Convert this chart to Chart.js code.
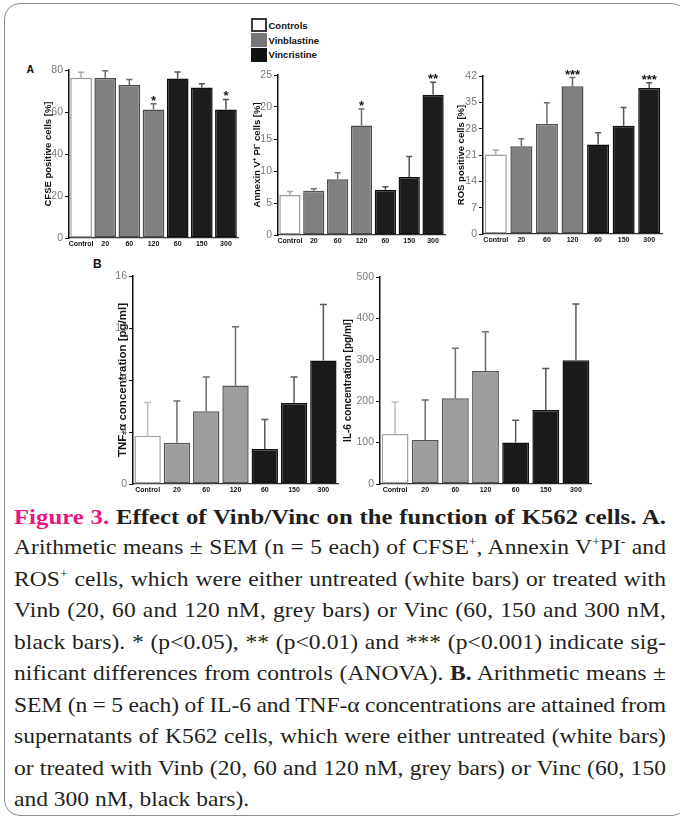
<!DOCTYPE html>
<html>
<head>
<meta charset="utf-8">
<script src="https://cdn.jsdelivr.net/npm/chart.js@4.4.0/dist/chart.umd.min.js"></script>
<style>
  html, body { margin: 0; padding: 0; background: #fff; }
  body { width: 680px; height: 827px; position: relative; overflow: hidden; }
  .frame { position: absolute; left: 4px; top: 3px; width: 684px; height: 813px; border: 1.5px solid #8c8c8c; border-radius: 16px; box-sizing: border-box; }
  canvas { position: absolute; }
  .lbl { position: absolute; font-family: "Liberation Sans", Arial, sans-serif; font-weight: bold; color: #111; line-height: 1; }
  .sw { position: absolute; left: 251px; width: 16px; height: 14px; box-sizing: border-box; }
  .caption { position: absolute; left: 14px; top: 500.5px; width: 600px; font-family: "Liberation Serif", "Times New Roman", serif; font-size: 21px; line-height: 31.5px; color: #231f20; transform: scaleX(1.12); transform-origin: 0 0; }
  .caption div { white-space: nowrap; }
  .caption div.head { font-size: 22px; }
  .caption sup { font-size: 12px; line-height: 0; position: relative; top: -8px; vertical-align: baseline; }
  .pink { color: #e5177e; }
</style>
</head>
<body>
<div class="frame"></div>

<div class="lbl" style="left:26.5px;top:63.5px;font-size:10.5px">A</div>
<div class="lbl" style="left:93px;top:258px;font-size:12px">B</div>

<div class="sw" style="top:18px;background:#fff;border:2px solid #3a3a3a"></div>
<div class="sw" style="top:33px;background:#777"></div>
<div class="sw" style="top:47.5px;background:#111"></div>
<div class="lbl" style="left:268.5px;top:21px;font-size:9.5px">Controls</div>
<div class="lbl" style="left:268.5px;top:35.5px;font-size:9.5px">Vinblastine</div>
<div class="lbl" style="left:268.5px;top:49.5px;font-size:9.5px">Vincristine</div>

<canvas id="cfse"></canvas>
<canvas id="annexin"></canvas>
<canvas id="ros"></canvas>
<canvas id="tnf"></canvas>
<canvas id="il6"></canvas>

<div class="caption">
  <div class="head fit"><b><span class="pink">Figure 3.</span> Effect of Vinb/Vinc on the function of K562 cells. A.</b></div>
  <div class="fit">Arithmetic means ± SEM (n = 5 each) of CFSE<sup>+</sup>, Annexin V<sup>+</sup>PI<sup>-</sup> and</div>
  <div class="fit">ROS<sup>+</sup> cells, which were either untreated (white bars) or treated with</div>
  <div class="fit">Vinb (20, 60 and 120 nM, grey bars) or Vinc (60, 150 and 300 nM,</div>
  <div class="fit">black bars). * (p&lt;0.05), ** (p&lt;0.01) and *** (p&lt;0.001) indicate sig-</div>
  <div class="fit">nificant differences from controls (ANOVA). <b>B.</b> Arithmetic means ±</div>
  <div class="fit">SEM (n = 5 each) of IL-6 and TNF-α concentrations are attained from</div>
  <div class="fit">supernatants of K562 cells, which were either untreated (white bars)</div>
  <div class="fit">or treated with Vinb (20, 60 and 120 nM, grey bars) or Vinc (60, 150</div>
  <div>and 300 nM, black bars).</div>
</div>

<script>
'use strict';

const categories = ['Control', '20', '60', '120', '60', '150', '300'];

// panel A
const cfseMeans = [76.3, 76.3, 72.8, 61.2, 75.9, 71.7, 61.2];
const cfseSem = [2.6, 3.4, 2.7, 2.7, 3.1, 1.8, 4.8];
const cfseStars = ['', '', '', '*', '', '', '*'];
const cfseTicks = [0, 20, 40, 60, 80];

const annexinMeans = [6.25, 6.93, 8.7, 17.1, 7.08, 9.06, 21.9];
const annexinSem = [0.55, 0.31, 1.04, 2.6, 0.47, 3.2, 1.95];
const annexinStars = ['', '', '', '*', '', '', '**'];
const annexinTicks = [0, 5, 10, 15, 20, 25];

const rosMeans = [21.1, 23.3, 29.3, 39.3, 23.8, 28.8, 38.8];
const rosSem = [1.2, 2.0, 5.6, 2.3, 3.1, 4.8, 1.4];
const rosStars = ['', '', '', '***', '', '', '***'];
const rosTicks = [0, 7, 14, 21, 28, 35, 42];

// panel B
const tnfMeans = [3.72, 3.18, 5.6, 7.58, 2.7, 6.24, 9.5];
const tnfSem = [2.55, 3.21, 2.64, 4.52, 2.26, 2.0, 4.3];
const tnfTicks = [0, 4, 8, 12, 16];

const il6Means = [121, 106, 207, 273, 100, 179, 299];
const il6Sem = [77, 97, 121, 95, 54, 100, 136];
const il6Ticks = [0, 100, 200, 300, 400, 500];

const FONT = '"Liberation Sans", Arial, sans-serif';

const styleA = {
    fill: ['#ffffff', '#808080', '#808080', '#808080', '#1c1c1c', '#1c1c1c', '#1c1c1c'],
    border: ['#9d95a8', '#4e4e4e', '#4e4e4e', '#4e4e4e', '#0e0e0e', '#0e0e0e', '#0e0e0e'],
    err: ['#ababab', '#6b6b6b', '#6b6b6b', '#6b6b6b', '#555555', '#555555', '#555555']
};
const styleB = {
    fill: ['#ffffff', '#9d9d9d', '#9d9d9d', '#9d9d9d', '#1a1a1a', '#1a1a1a', '#1a1a1a'],
    border: ['#a8a0b0', '#555555', '#555555', '#555555', '#101010', '#101010', '#101010'],
    err: ['#bdbdbd', '#6e6e6e', '#6e6e6e', '#6e6e6e', '#5a5a5a', '#5a5a5a', '#5a5a5a']
};

// upper error whiskers + significance stars
function errorPlugin(sem, colors, stars, cap) {
    return {
        id: 'errorBars',
        afterDatasetsDraw(chart) {
            const ctx = chart.ctx;
            const y = chart.scales.y;
            const ds = chart.data.datasets[0];
            const meta = chart.getDatasetMeta(0);
            ctx.save();
            meta.data.forEach(function (bar, i) {
                const top = y.getPixelForValue(ds.data[i] + sem[i]);
                ctx.strokeStyle = colors[i];
                ctx.lineWidth = 1.5;
                ctx.beginPath();
                ctx.moveTo(bar.x, bar.y);
                ctx.lineTo(bar.x, top);
                ctx.moveTo(bar.x - cap, top);
                ctx.lineTo(bar.x + cap, top);
                ctx.stroke();
                if (stars && stars[i]) {
                    ctx.fillStyle = '#111';
                    ctx.font = 'bold 13px ' + FONT;
                    ctx.textAlign = 'center';
                    ctx.textBaseline = 'alphabetic';
                    ctx.fillText(stars[i], bar.x, top + 1);
                }
            });
            ctx.restore();
        }
    };
}

function barChart(id, g, means, sem, stars, style, yTicks, yTitle) {
    const canvas = document.getElementById(id);
    canvas.style.left = g.x + 'px';
    canvas.style.top = g.y + 'px';
    canvas.width = g.w;
    canvas.height = g.h;
    return new Chart(canvas, {
        type: 'bar',
        data: {
            labels: categories,
            datasets: [{
                data: means,
                backgroundColor: style.fill,
                borderColor: style.border,
                borderWidth: 1.5,
                borderSkipped: false,
                barPercentage: g.bar,
                categoryPercentage: 1
            }]
        },
        options: {
            responsive: false,
            animation: false,
            layout: { padding: { left: 0, top: g.padTop, right: g.padRight, bottom: 0 } },
            plugins: { legend: { display: false }, tooltip: { enabled: false } },
            scales: {
                x: {
                    grid: { display: false, drawTicks: false },
                    border: { display: true, color: '#333', width: 1.2 },
                    ticks: { font: { size: 7, weight: 'bold', family: FONT }, color: '#111', padding: 2, autoSkip: false, maxRotation: 0 },
                    afterFit: function (s) { s.height = g.xh; }
                },
                y: {
                    min: yTicks[0],
                    max: yTicks[yTicks.length - 1],
                    afterBuildTicks: function (s) { s.ticks = yTicks.map(v => ({ value: v })); },
                    ticks: { font: { size: 10.5, family: FONT }, color: '#7a7a7a', padding: 2 },
                    grid: { display: true, drawOnChartArea: false, drawTicks: true, tickLength: 4, color: '#111' },
                    border: { display: true, color: '#111', width: 1.5 },
                    title: { display: true, text: yTitle, font: { size: g.tSize, weight: 'bold', family: FONT }, color: '#111', padding: { top: g.titlePad, bottom: 0 } },
                    afterFit: function (s) { s.width = g.yw; }
                }
            }
        },
        plugins: [errorPlugin(sem, style.err, stars, g.cap)]
    });
}

barChart('cfse', { x: 10, y: 55, w: 240, h: 195, yw: 59, xh: 12, padTop: 15, padRight: 12, titlePad: 32.3, tSize: 9.5, bar: 0.9, cap: 3 },
    cfseMeans, cfseSem, cfseStars, styleA, cfseTicks, 'CFSE positive cells [%]');
barChart('annexin', { x: 245, y: 55, w: 210, h: 195, yw: 33, xh: 15, padTop: 20, padRight: 10, titlePad: 6.5, tSize: 9.5, bar: 0.89, cap: 3 },
    annexinMeans, annexinSem, annexinStars, styleA, annexinTicks, 'Annexin V\u207A PI\u207B cells [%]');
barChart('ros', { x: 450, y: 55, w: 225, h: 195, yw: 33, xh: 16, padTop: 21, padRight: 13, titlePad: 5.3, tSize: 9.5, bar: 0.86, cap: 3 },
    rosMeans, rosSem, rosStars, styleA, rosTicks, 'ROS positive cells [%]');
barChart('tnf', { x: 85, y: 262, w: 260, h: 232, yw: 48, xh: 10, padTop: 14, padRight: 7, titlePad: 31, tSize: 11.5, bar: 0.9, cap: 3.5 },
    tnfMeans, tnfSem, null, styleB, tnfTicks, 'TNF-\u03B1 concentration [pg/ml]');
barChart('il6', { x: 340, y: 262, w: 260, h: 232, yw: 40, xh: 10, padTop: 15, padRight: 9, titlePad: 2, tSize: 10, bar: 0.89, cap: 3.5 },
    il6Means, il6Sem, null, styleB, il6Ticks, 'IL-6 concentration [pg/ml]');

// stretch each full caption line to the column width, like the justified print
const SCALE_X = 1.12;
const lineWidth = 652 / SCALE_X;
document.querySelectorAll('.caption .fit').forEach(function (el) {
    el.style.display = 'inline-block';
    const w0 = el.getBoundingClientRect().width / SCALE_X;
    const text = el.textContent;
    const spaces = (text.match(/ /g) || []).length;
    el.style.letterSpacing = ((lineWidth - w0) * 0.4 / text.length) + 'px';
    const w1 = el.getBoundingClientRect().width / SCALE_X;
    el.style.wordSpacing = ((lineWidth - w1) / Math.max(spaces, 1)) + 'px';
    el.style.display = 'block';
});
</script>
</body>
</html>
